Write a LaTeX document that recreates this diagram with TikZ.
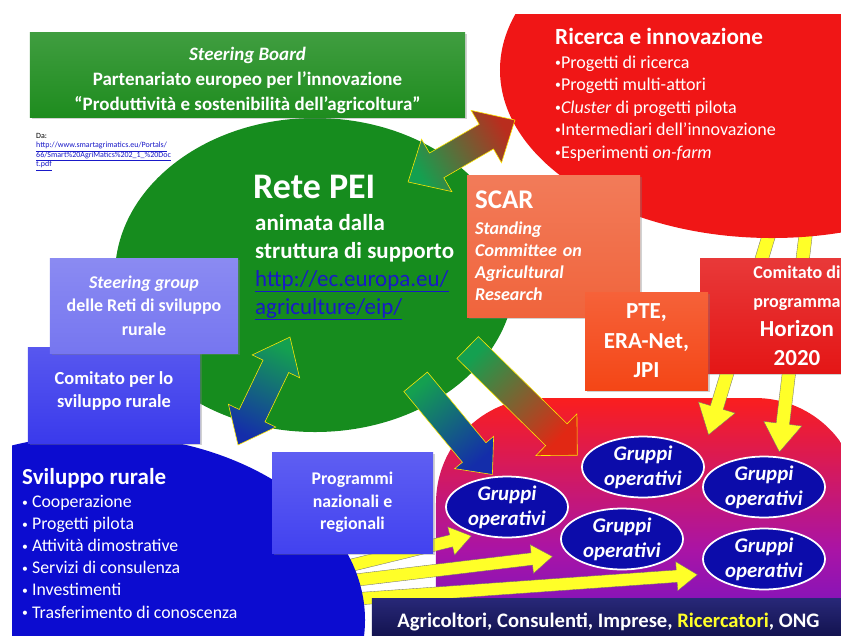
\documentclass[tikz,border=0pt]{standalone}
\usepackage{fontspec}
\setmainfont{Carlito}
\usetikzlibrary{shapes.geometric,shapes.arrows,shadows,calc}

\definecolor{peigreen}{RGB}{22,140,30}
\definecolor{boardgreen}{RGB}{30,140,30}
\definecolor{ricred}{RGB}{240,22,22}
\definecolor{scarorange}{RGB}{240,100,60}
\definecolor{pteorange}{RGB}{244,70,22}
\definecolor{horred}{RGB}{228,22,22}
\definecolor{sgblue}{RGB}{118,118,240}
\definecolor{comblue}{RGB}{58,58,236}
\definecolor{srblue}{RGB}{12,12,208}
\definecolor{progblue}{RGB}{66,66,240}
\definecolor{gonavy}{RGB}{12,12,170}
\definecolor{bartop}{RGB}{40,40,120}
\definecolor{barbottom}{RGB}{14,14,70}
\definecolor{linkblue}{RGB}{25,25,200}
\definecolor{arrgreen}{RGB}{20,160,80}
\definecolor{arrbrown}{RGB}{185,45,30}
\definecolor{arrblue}{RGB}{20,45,170}
\definecolor{arrred}{RGB}{225,40,20}
\definecolor{tagyellow}{RGB}{255,255,40}
\definecolor{massred}{RGB}{250,30,30}
\definecolor{massmid}{RGB}{170,20,165}
\definecolor{massblue}{RGB}{70,20,220}

\newcommand\fsize[2]{\fontsize{#1}{#2}\selectfont}
% small raised bullet of the lists
\newcommand\bul{{\raisebox{0.1em}{\fsize{10}{10}•}}}
% thick arrow node stretched between two points: name, style, tail, tip
\newcommand\fatarrow[4]{%
  \path let \p1=(#3), \p2=(#4),
    \n1={atan2(\y2-(\y1),\x2-(\x1))}, \n2={veclen(\x2-(\x1),\y2-(\y1))}, \n3={\n1+90} in
    node[#2, rotate=\n1, minimum height=\n2, shading angle=\n3] (#1) at ($(#3)!0.5!(#4)$) {};}

\begin{document}
\begin{tikzpicture}[x=0.03cm, y=-0.03cm,
    shade box/.style={rectangle, inner sep=3pt, align=center, text=white,
                      top color=#1!85!white, bottom color=#1,
                      drop shadow={shadow xshift=1.5pt, shadow yshift=-1.5pt, opacity=0.35}},
    blob/.style={ellipse, inner sep=0pt},
    gruppo/.style={ellipse, fill=gonavy, draw=white, line width=1.5pt,
                   minimum width=3.66cm, minimum height=1.8cm, inner sep=0pt,
                   align=center, text=white, font=\bfseries\itshape\fsize{17.8}{21.5}},
    fat/.style={draw=yellow!90!orange, line width=0.5pt, inner sep=0.42cm, minimum width=0pt},
    yarrow/.style={single arrow, left color=tagyellow, right color=tagyellow,
                   draw=black!55, line width=0.3pt, minimum width=0pt},
    white text/.style={text=white, inner sep=0pt, align=left}
  ]
  \fill[white] (0,0) rectangle (841,635);
  \useasboundingbox (0,0) rectangle (841,635);

  \begin{scope}
  \clip (12,14) rectangle (841,635);

  % the big round areas
  \node[blob, fill=peigreen, minimum width=12cm, minimum height=9.42cm] (pei) at (315,275) {};
  \node[rectangle, rounded corners=3.15cm, minimum width=12.72cm, minimum height=9.06cm,
        top color=massred, bottom color=massblue, middle color=massmid] (gomass) at (648,549) {};

  % yellow arrows leaving the research circle (tails hidden under it)
  \coordinate (yTailA) at (775,215);
  \coordinate (yTipA)  at (710,430);
  \coordinate (yTailB) at (808,215);
  \coordinate (yTipB)  at (780,447);
  \fatarrow{ricgoA}{yarrow, inner sep=0.195cm, single arrow head extend=0.375cm,
    single arrow tip angle=68}{yTailA}{yTipA}
  \fatarrow{ricgoB}{yarrow, inner sep=0.195cm, single arrow head extend=0.375cm,
    single arrow tip angle=68}{yTailB}{yTipB}

  \node[blob, fill=ricred, minimum width=16.32cm, minimum height=10.08cm] (ric) at (772,70) {};

  % yellow arrows from rural development to the groups
  \coordinate (sTailA) at (340,568);
  \coordinate (sTipA)  at (467,537);
  \coordinate (sTailB) at (340,582);
  \coordinate (sTipB)  at (548,557);
  \coordinate (sTailC) at (340,600);
  \coordinate (sTipC)  at (693,575);
  \foreach \k in {A,B,C}
    \fatarrow{svgo\k}{yarrow, inner sep=0.18cm, single arrow head extend=0.25cm,
      single arrow tip angle=70}{sTail\k}{sTip\k};

  \node[blob, fill=srblue, minimum width=15.9cm, minimum height=11.1cm] (svil) at (100,620) {};

  % operational groups
  \node[gruppo] (go1) at (507,507) {Gruppi\\operativi};
  \node[gruppo] (go2) at (643,467) {Gruppi\\operativi};
  \node[gruppo] (go3) at (622,539) {Gruppi\\operativi};
  \node[gruppo] (go4) at (764,487) {Gruppi\\operativi};
  \node[gruppo] (go5) at (764,559) {Gruppi\\operativi};

  \node[rectangle, top color=bartop, bottom color=barbottom, minimum width=14.19cm,
        minimum height=1.41cm, text=white, font=\bfseries\fsize{17.6}{20}] (actors) at (608.5,621.5)
    {Agricoltori, Consulenti, Imprese, \textcolor{tagyellow}{Ricercatori}, ONG};

  % boxes
  \node[shade box=boardgreen, minimum width=13.05cm, minimum height=2.52cm,
        font=\bfseries\fsize{16.2}{21.3}] (board) at (247.5,75)
    {\rule{0pt}{21pt}\textit{Steering Board}\\Partenariato europeo per l’innovazione\\
     “Produttività e sostenibilità dell’agricoltura”};
  \node[shade box=scarorange, minimum width=5.19cm, minimum height=4.26cm,
        text width=4.7cm, align=left, inner xsep=0.24cm,
        font=\bfseries\itshape\fsize{15.4}{18.8}] (scar) at (553.5,246)
    {{\upshape\fsize{23}{23}SCAR}\\[3pt]Standing\\Committee on\\Agricultural\\Research};
  \node[shade box=horred, minimum width=5.82cm, minimum height=3.45cm,
        font=\bfseries\fsize{15.4}{24.75}] (horizon) at (797,315.5)
    {Comitato di\\programma\\{\fsize{19.6}{24.75}Horizon}\\{\fsize{19.6}{24.75}2020}};
  \node[shade box=pteorange, minimum width=3.69cm, minimum height=2.94cm,
        font=\bfseries\fsize{19.6}{25.2}] (pte) at (646.5,341) {PTE,\\ERA-Net,\\JPI};
  \node[shade box=comblue, minimum width=5.16cm, minimum height=2.88cm,
        font=\bfseries\fsize{15.7}{19.6}] (comsr) at (114,395)
    {Comitato per lo\\sviluppo rurale\rule[-10pt]{0pt}{0pt}};
  \node[shade box=sgblue, minimum width=5.64cm, minimum height=2.85cm,
        font=\bfseries\fsize{15.3}{20}] (sgroup) at (144,305.5)
    {\textit{Steering group}\\delle Reti di sviluppo\\rurale};
  \node[shade box=progblue, minimum width=4.83cm, minimum height=3.03cm,
        font=\bfseries\fsize{15.2}{19.2}] (prog) at (352.5,502.5)
    {Programmi\\nazionali e\\regionali};

  % gradient arrows between the areas
  \coordinate (aPei) at (408,182);
  \coordinate (aRic) at (515,120);
  \fatarrow{peiric}{double arrow, fat, inner sep=0.42cm, left color=arrgreen, right color=arrbrown,
    double arrow head extend=0.48cm, double arrow tip angle=85}{aPei}{aRic}
  \coordinate (bPei) at (290,337);
  \coordinate (bSvil) at (238,445);
  \fatarrow{peisvil}{double arrow, fat, inner sep=0.42cm, left color=arrgreen, right color=arrblue,
    double arrow head extend=0.36cm, double arrow tip angle=78}{bPei}{bSvil}
  \coordinate (cTail) at (410,375);
  \coordinate (cTip)  at (487,468);
  \fatarrow{peigoA}{single arrow, fat, inner sep=0.45cm, left color=arrgreen, right color=arrblue,
    single arrow head extend=0.3cm, single arrow tip angle=83}{cTail}{cTip}
  \coordinate (dTail) at (462,342);
  \coordinate (dTip)  at (572,450);
  \fatarrow{peigoB}{single arrow, fat, inner sep=0.45cm, left color=arrgreen, right color=arrred,
    single arrow head extend=0.42cm, single arrow tip angle=90}{dTail}{dTip}

  % texts inside the round areas (base = last line)
  \node[white text, anchor=west, font=\bfseries\fsize{30.7}{30.7}] (peititle) at (253,187) {Rete PEI};
  \node[white text, anchor=base west, font=\bfseries\fsize{19.6}{23.9}] (peitext) at (255,314)
    {animata dalla\\struttura di supporto\\
     \mdseries\textcolor{linkblue}{\underline{http://ec.europa.eu/}}\\
     \mdseries\textcolor{linkblue}{\underline{agriculture/eip/}}};
  \node[white text, anchor=base west, font=\bfseries\fsize{19.8}{20}] (rictitle) at (555,44)
    {Ricerca e innovazione};
  \node[white text, anchor=base west, font=\fsize{15.4}{19.2}] (riclist) at (555,158)
    {\bul Progetti di ricerca\\\bul Progetti multi-attori\\\bul\textit{Cluster} di progetti pilota\\
     \bul Intermediari dell’innovazione\\\bul Esperimenti \textit{on-farm}};
  \node[white text, anchor=base west, font=\bfseries\fsize{19.6}{20}] (sviltitle) at (22,484)
    {Sviluppo rurale};
  \node[white text, anchor=base west, font=\fsize{15.2}{18.8}] (svillist) at (22,618)
    {\bul\ Cooperazione\\\bul\ Progetti pilota\\\bul\ Attività dimostrative\\
     \bul\ Servizi di consulenza\\\bul\ Investimenti\\\bul\ Trasferimento di conoscenza};
  \node[anchor=north west, inner sep=0pt, align=left, font=\fsize{6.8}{8.1}] (source) at (36,133)
    {Da:\\\textcolor{linkblue}{\underline{http://www.smartagrimatics.eu/Portals/}}\\
     \textcolor{linkblue}{\underline{66/Smart\%20AgriMatics\%202\_1\_\%20Doc}}\\
     \textcolor{linkblue}{\underline{t.pdf}}};
  \end{scope}
\end{tikzpicture}
\end{document}
